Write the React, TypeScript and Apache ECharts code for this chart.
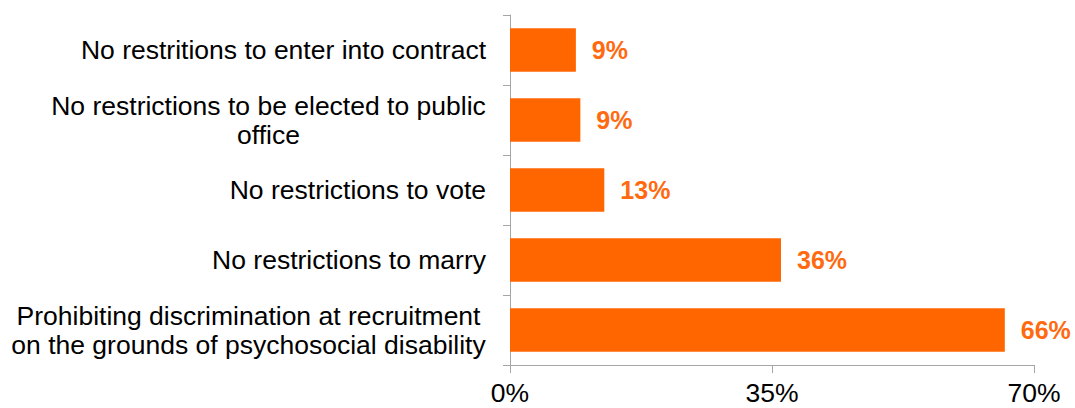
import React, { useEffect, useRef } from "react";
import * as echarts from "echarts";

const categories: string[] = [
  "No restritions to enter into contract",
  "No restrictions to be elected to public\noffice",
  "No restrictions to vote",
  "No restrictions to marry",
  "Prohibiting discrimination at recruitment\non the grounds of psychosocial disability",
];
const values: number[] = [8.8, 9.4, 12.6, 36.2, 66.1];
const axisTicks: number[] = [0, 35, 70];

const FONT = '"Liberation Sans", Arial, sans-serif';
const ORANGE = "#FF6600";
const LABEL_SIZE = 26.5;

function measure(text: string, font: string): number {
  const c = document.createElement("canvas");
  const ctx = c.getContext("2d");
  if (!ctx) return text.length * 13;
  ctx.font = font;
  return ctx.measureText(text).width;
}

export default function App() {
  const ref = useRef<HTMLDivElement>(null);
  useEffect(() => {
    if (!ref.current) return;
    const chart = echarts.init(ref.current, null, { renderer: "svg" });
    const labelFont = `${LABEL_SIZE}px ${FONT}`;
    const rich: Record<string, any> = {};
    categories.forEach((cat, i) => {
      const lines = cat.split("\n");
      rich["r" + i] = {
        fontFamily: FONT,
        fontSize: LABEL_SIZE,
        lineHeight: 29,
        color: "#000",
        align: "center",
        width: Math.ceil(Math.max(...lines.map((l) => measure(l, labelFont)))),
      };
    });
    chart.setOption({
      animation: false,
      grid: { left: 510, right: 41, top: 15, bottom: 43, containLabel: false },
      xAxis: {
        type: "value",
        min: axisTicks[0],
        max: axisTicks[axisTicks.length - 1],
        interval: axisTicks[1] - axisTicks[0],
        splitLine: { show: false },
        axisLine: { show: true, lineStyle: { color: "#A6A6A6", width: 1 } },
        axisTick: { show: true, length: 8, lineStyle: { color: "#A6A6A6" } },
        axisLabel: {
          color: "#000",
          fontFamily: FONT,
          fontSize: 26.5,
          margin: 14,
          formatter: (v: number) => `${v}%`,
        },
      },
      yAxis: {
        type: "category",
        inverse: true,
        data: categories,
        axisLine: { show: true, lineStyle: { color: "#A6A6A6", width: 1 } },
        axisTick: { show: true, length: 7, lineStyle: { color: "#A6A6A6" } },
        axisLabel: {
          color: "#000",
          fontFamily: FONT,
          fontSize: LABEL_SIZE,
          lineHeight: 29,
          margin: 24,
          align: "right",
          formatter: (v: string) => {
            const lines = v.split("\n");
            if (lines.length === 1) return v;
            const i = categories.indexOf(v);
            return lines.map((l) => `{r${i}|${l}}`).join("\n");
          },
          rich,
        },
      },
      series: [
        {
          type: "bar",
          data: values,
          barWidth: "62%",
          itemStyle: { color: ORANGE },
          label: {
            show: true,
            position: "right",
            distance: 16,
            color: "#FF6A10",
            fontFamily: FONT,
            fontWeight: "bold",
            fontSize: 25,
            formatter: (p: any) => `${Math.round(p.value)}%`,
          },
        },
      ],
    });
    return () => chart.dispose();
  }, []);
  return (
    <div
      ref={ref}
      style={{ position: "absolute", left: 0, top: 0, width: 1075, height: 408, background: "#fff" }}
    />
  );
}
